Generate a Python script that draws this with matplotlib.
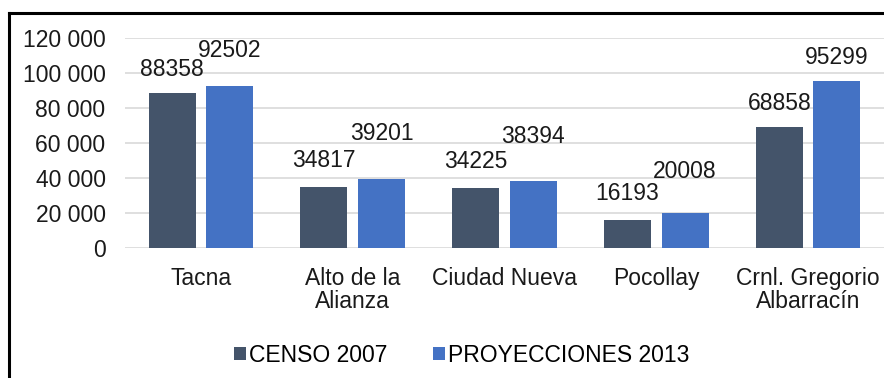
import matplotlib.pyplot as plt
from matplotlib.lines import Line2D
import numpy as np

plt.rcParams['font.family'] = ['Liberation Sans', 'DejaVu Sans']

# districts and population per series
districts = ["Tacna", "Alto de la\nAlianza", "Ciudad Nueva", "Pocollay", "Crnl. Gregorio\nAlbarracín"]
censo_2007 = [88358, 34817, 34225, 16193, 68858]
proy_2013 = [92502, 39201, 38394, 20008, 95299]
y_ticks = [0, 20000, 40000, 60000, 80000, 100000, 120000]

# label offsets above each bar (points)
off_censo = [17, 19, 19, 19, 17]
off_proy = [26, 33, 32, 30, 17]

dark = "#44546A"
blue = "#4472C4"
fs = 16.5

fig = plt.figure(figsize=(8.84, 3.78), dpi=100)
ax = fig.add_axes([125/884, 1-248/378, 1-125/884, (248-38)/378])

x = np.arange(len(districts))
w = 0.31
b1 = ax.bar(x - 0.19, censo_2007, w, color=dark, label="CENSO 2007", zorder=3)
b2 = ax.bar(x + 0.19, proy_2013, w, color=blue, label="PROYECCIONES 2013", zorder=3)

for bars, vals, offs in [(b1, censo_2007, off_censo), (b2, proy_2013, off_proy)]:
    for r, v, o in zip(bars, vals, offs):
        ax.annotate(str(v), (r.get_x() + r.get_width()/2, v), xytext=(0, o),
                    textcoords="offset points", ha="center", va="center",
                    fontsize=fs, color="#1a1a1a")

ax.set_xlim(-0.5, 4.5)
ax.set_ylim(0, 120000)
ax.set_yticks(y_ticks)
ax.set_yticklabels([f"{t:,}".replace(",", " ") for t in y_ticks])
ax.set_xticks(x)
ax.set_xticklabels(districts, va="top", linespacing=1.0)
ax.tick_params(axis="y", length=0, pad=14, labelsize=fs, labelcolor="#1a1a1a")
ax.tick_params(axis="x", length=0, pad=14, labelsize=fs, labelcolor="#1a1a1a")
ax.yaxis.grid(True, color="#D9D9D9", linewidth=1.2, zorder=0)
for s in ax.spines.values():
    s.set_visible(False)

leg = fig.legend(handles=[b1, b2], loc="center", bbox_to_anchor=(462/884, 1-355/378),
                 ncol=2, frameon=False, fontsize=fs, handlelength=0.5, handleheight=0.5,
                 handletextpad=0.15, columnspacing=2.0)

# frame lines on top and left
fig.add_artist(Line2D([9/884, 9/884], [0, 1-13/378], color="black", lw=2.2))
fig.add_artist(Line2D([9/884, 1], [1-13/378, 1-13/378], color="black", lw=2.2))

fig.savefig("out.png", dpi=100)
